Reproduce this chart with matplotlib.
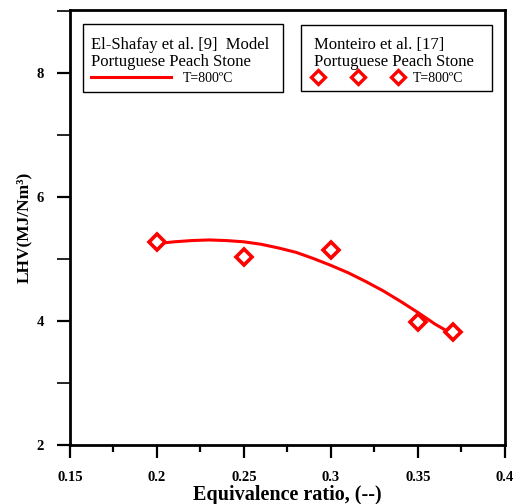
import numpy as np
import matplotlib
matplotlib.use("Agg")
import matplotlib.pyplot as plt
from matplotlib.lines import Line2D
from matplotlib.patches import Rectangle
from matplotlib.ticker import MultipleLocator

plt.rcParams['font.family'] = ['Liberation Serif', 'DejaVu Serif']

# Monteiro et al. [17] experimental points
exp_er = [0.20, 0.25, 0.30, 0.35, 0.37]
exp_lhv = [5.28, 5.03, 5.14, 3.99, 3.83]

# El-Shafay et al. [9] model curve
model_er = [0.203, 0.21, 0.22, 0.23, 0.24, 0.25, 0.26, 0.27, 0.28, 0.29,
            0.30, 0.31, 0.32, 0.33, 0.34, 0.35, 0.36, 0.368]
model_lhv = [5.26, 5.28, 5.30, 5.31, 5.30, 5.28, 5.24, 5.18, 5.11, 5.01,
             4.90, 4.78, 4.64, 4.49, 4.32, 4.14, 3.95, 3.82]

red = '#ff0000'

fig = plt.figure(figsize=(5.21, 5.04), dpi=100)
ax = fig.add_axes([0.134, 0.117, 0.835, 0.863])

ax.plot(model_er, model_lhv, color=red, lw=2.2)
ax.plot(exp_er, exp_lhv, ls='none', marker='D', ms=8, mfc='white',
        mec=red, mew=2.6)

ax.set_xlim(0.15, 0.4)
ax.set_ylim(2, 9.02)
ax.xaxis.set_minor_locator(MultipleLocator(0.025))
ax.yaxis.set_major_locator(MultipleLocator(2))
ax.yaxis.set_minor_locator(MultipleLocator(1))
ax.set_xticks([0.15, 0.2, 0.25, 0.3, 0.35, 0.4])
ax.set_xticklabels(['0.15', '0.2', '0.25', '0.3', '0.35', '0.4'])
ax.tick_params(which='major', direction='out', length=9.5, width=1.6,
               labelsize=10.5, pad=9)
ax.tick_params(axis='x', which='minor', direction='out', length=5, width=1.6)
ax.tick_params(axis='y', which='minor', direction='out', length=9.5, width=1.2)
for lab in ax.get_xticklabels() + ax.get_yticklabels():
    lab.set_fontweight('bold')
for s in ax.spines.values():
    s.set_linewidth(2)

ax.set_xlabel('Equivalence ratio, (--)', fontsize=14.5, fontweight='bold', labelpad=1)
ax.set_ylabel('LHV(MJ/Nm³)', fontsize=12.5, fontweight='bold')
ax.yaxis.set_label_coords(-0.087, 0.5)

# legend frames
for x0, y0, x1, y1 in [(0.030, 0.8115, 0.4897, 0.9678), (0.531, 0.8138, 0.970, 0.9655)]:
    ax.add_patch(Rectangle((x0, y0), x1 - x0, y1 - y0, transform=ax.transAxes,
                           fill=False, ec='black', lw=1, zorder=5))

title_font = {'family': 'Liberation Serif', 'size': 12}
entry_font = {'family': 'Liberation Serif', 'size': 10}

h1 = Line2D([], [], color=red, lw=2.2)
leg1 = ax.legend([h1], ['T=800ºC'], title='El-Shafay et al. [9]  Model\nPortuguese Peach Stone',
                 loc='upper left', bbox_to_anchor=(0.0483, 0.9380), prop=entry_font,
                 title_fontproperties=title_font, alignment='left', handlelength=5.8,
                 frameon=False, borderaxespad=0, borderpad=0, labelspacing=0.12,
                 handletextpad=0.8)
leg1.get_title().set_linespacing(1.12)
ax.add_artist(leg1)

h2 = Line2D([], [], ls='none', marker='D', ms=7, mfc='white', mec=red, mew=2.4)
leg2 = ax.legend([h2], ['T=800ºC'], title='Monteiro et al. [17]\nPortuguese Peach Stone',
                 loc='upper left', bbox_to_anchor=(0.5609, 0.9380), prop=entry_font,
                 title_fontproperties=title_font, alignment='left', handlelength=6.34,
                 numpoints=3, frameon=False, borderaxespad=0, borderpad=0,
                 labelspacing=0.12, handletextpad=0.8)
leg2.get_title().set_linespacing(1.12)

fig.savefig('out.png', dpi=100)
